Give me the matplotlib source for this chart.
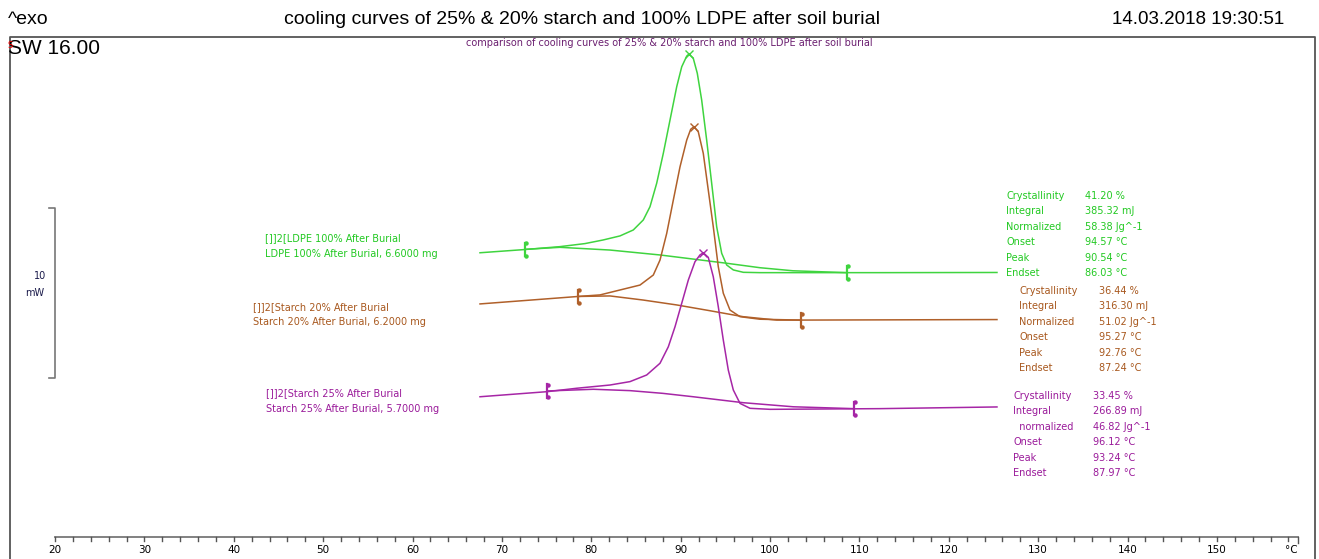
import matplotlib
matplotlib.use("Agg")
import matplotlib.pyplot as plt

W, H = 1319, 559

# colours
green = "#3fd43f"
brown = "#b0602a"
purple = "#a626a6"
green_t = "#22c922"
brown_t = "#a8581e"
purple_t = "#9a1a9a"

# LDPE 100% after burial (temperature degC, heat flow mW)
ldpe_t = [67.55, 72.58, 76.50, 79.30, 81.31, 83.21, 84.70, 85.82, 86.57, 87.32, 88.06, 88.81,
          89.56, 90.12, 90.68, 90.93, 91.41, 91.86, 92.35, 92.91, 93.47, 94.03, 94.59, 95.15,
          95.89, 97.01, 98.88, 112.30, 125.39]
ldpe_q = [16.72, 16.91, 17.08, 17.26, 17.47, 17.71, 18.06, 18.65, 19.43, 20.81, 22.57, 24.53,
          26.49, 27.66, 28.29, 28.41, 28.16, 27.28, 25.71, 23.35, 20.81, 18.25, 16.69, 16.00,
          15.71, 15.57, 15.55, 15.55, 15.56]
ldpe_bt = [72.58, 76.50, 82.09, 87.69, 91.38, 95.18, 98.88, 102.57, 108.61]
ldpe_bq = [16.92, 17.04, 16.88, 16.59, 16.35, 16.10, 15.84, 15.66, 15.55]

# Starch 20% after burial
s20_t = [67.55, 78.55, 80.98, 83.21, 85.45, 86.94, 87.69, 88.44, 89.18, 89.93, 90.68, 91.12,
         91.49, 91.97, 92.53, 93.09, 93.65, 94.21, 94.77, 95.52, 96.64, 98.88, 103.35, 125.39]
s20_q = [13.71, 14.15, 14.24, 14.53, 14.82, 15.41, 16.29, 17.86, 19.82, 21.78, 23.35, 23.98,
         24.14, 23.84, 22.57, 20.41, 18.25, 15.90, 14.34, 13.35, 12.96, 12.81, 12.76, 12.79]
s20_bt = [78.55, 82.09, 85.79, 89.56, 93.28, 96.98, 100.75, 103.43]
s20_bq = [14.15, 14.18, 13.94, 13.65, 13.31, 12.96, 12.76, 12.76]

# Starch 25% after burial
s25_t = [67.55, 75.08, 78.37, 82.09, 84.33, 86.20, 87.69, 88.62, 89.37, 90.12, 90.86, 91.60,
         92.16, 92.53, 93.09, 93.65, 94.21, 94.77, 95.33, 95.89, 96.64, 97.76, 100.00, 112.30,
         125.39]
s25_q = [8.25, 8.55, 8.75, 8.94, 9.14, 9.53, 10.22, 11.19, 12.37, 13.75, 15.12, 16.19,
         16.59, 16.72, 16.45, 15.31, 13.55, 11.59, 9.82, 8.65, 7.86, 7.57, 7.51, 7.55, 7.65]
s25_bt = [75.08, 80.23, 84.33, 88.00, 91.41, 97.01, 102.60, 109.39]
s25_bq = [8.59, 8.69, 8.61, 8.45, 8.25, 7.90, 7.66, 7.55]

# integration limits and peaks
limits = [(72.58, 16.92, 108.61, 15.55), (78.55, 14.15, 103.43, 12.76), (75.08, 8.59, 109.39, 7.55)]
peaks = [(90.93, 28.41), (91.49, 24.14), (92.53, 16.72)]

labels_1 = ["[]]2[LDPE 100% After Burial", "[]]2[Starch 20% After Burial", "[]]2[Starch 25% After Burial"]
labels_2 = ["LDPE 100% After Burial, 6.6000 mg", "Starch 20% After Burial, 6.2000 mg",
            "Starch 25% After Burial, 5.7000 mg"]

res_names = [["Crystallinity", "Integral", "Normalized", "Onset", "Peak", "Endset"],
             ["Crystallinity", "Integral", "Normalized", "Onset", "Peak", "Endset"],
             ["Crystallinity", "Integral", "  normalized", "Onset", "Peak", "Endset"]]
res_vals = [["41.20 %", "385.32 mJ", "58.38 Jg^-1", "94.57 °C", "90.54 °C", "86.03 °C"],
            ["36.44 %", "316.30 mJ", "51.02 Jg^-1", "95.27 °C", "92.76 °C", "87.24 °C"],
            ["33.45 %", "266.89 mJ", "46.82 Jg^-1", "96.12 °C", "93.24 °C", "87.97 °C"]]

x_ticks = list(range(20, 160, 10))

fig = plt.figure(figsize=(W / 100, H / 100), dpi=100)
ax = fig.add_axes([0, 0, 1, 1])
ax.set_xlim(13.846, 161.42)
ax.set_ylim(-1.294, 31.588)
ax.axis("off")


def px(x, y):
    return x / W, 1 - y / H


# frame
fig.add_artist(plt.Line2D([10 / W, 10 / W, 1315 / W, 1315 / W], [0, 1 - 37 / H, 1 - 37 / H, 0],
                          transform=fig.transFigure, color="#555555", lw=1.3))

# header
fig.text(*px(8, 20), "^exo", fontsize=14, family="Liberation Sans", va="center")
fig.text(*px(582, 20), "cooling curves of 25% & 20% starch and 100% LDPE after soil burial",
         fontsize=14, family="Liberation Sans", va="center", ha="center")
fig.text(*px(1284, 20), "14.03.2018 19:30:51", fontsize=13.5, family="Liberation Sans",
         va="center", ha="right")
fig.text(*px(8, 48), "SW 16.00", fontsize=15, family="Liberation Sans", va="center")
fig.text(*px(8, 46), "S", fontsize=6, color="red", va="center")
fig.text(*px(669, 43), "comparison of cooling curves of 25% & 20% starch and 100% LDPE after soil burial",
         fontsize=7, color="#6b1f70", ha="center", va="center")

# curves
curves = [(ldpe_t, ldpe_q, ldpe_bt, ldpe_bq, green),
          (s20_t, s20_q, s20_bt, s20_bq, brown),
          (s25_t, s25_q, s25_bt, s25_bq, purple)]
for i, (t, q, bt, bq, c) in enumerate(curves):
    ax.plot(t, q, color=c, lw=1.1, solid_joinstyle="round")
    ax.plot(bt, bq, color=c, lw=1.1, solid_joinstyle="round")
    t0, q0, t1, q1 = limits[i]
    for tt, qq in [(t0, q0), (t1, q1)]:
        ax.plot([tt, tt], [qq - 0.4, qq + 0.4], color=c, lw=1.6)
        ax.plot([tt + 0.12, tt + 0.12], [qq - 0.38, qq + 0.38], "o", color=c, ms=2.2)
    ax.plot(*peaks[i], "x", color=c, ms=6, mew=1)

# sample labels
fs = 7
lab_pos = [(265, 238, 254), (253, 307, 322), (266, 393, 409)]
txt_cols = [green_t, brown_t, purple_t]
for i in range(3):
    x0, y1, y2 = lab_pos[i]
    fig.text(*px(x0, y1), labels_1[i], fontsize=fs, color=txt_cols[i], va="center")
    fig.text(*px(x0, y2), labels_2[i], fontsize=fs, color=txt_cols[i], va="center")

# result tables
tab_pos = [(1006, 1085, 196), (1019, 1099, 291), (1013, 1093, 396)]
for i in range(3):
    xn, xv, y0 = tab_pos[i]
    for k in range(6):
        yy = y0 + k * 15.4
        fig.text(*px(xn, yy), res_names[i][k], fontsize=fs, color=txt_cols[i], va="center")
        fig.text(*px(xv, yy), res_vals[i][k], fontsize=fs, color=txt_cols[i], va="center")

# scale bar 10 mW
ax.plot([19.33, 20, 20, 19.33], [19.35, 19.35, 9.35, 9.35], color="#777777", lw=1.2)
fig.text(*px(46, 276), "10", fontsize=fs, color="#1a1a4a", ha="right", va="center")
fig.text(*px(44, 293), "mW", fontsize=fs, color="#1a1a4a", ha="right", va="center")

# temperature axis
ax.plot([20, 159.07], [0, 0], color="#777777", lw=1.3)
for tk in range(20, 160, 2):
    ax.plot([tk, tk], [0, -0.25], color="#555555", lw=1)
ax.plot([159.07, 159.07], [0, -0.35], color="#555555", lw=1)
for tk in x_ticks:
    ax.text(tk, -0.77, str(tk), fontsize=7.5, ha="center", va="center")
ax.text(159.0, -0.77, "°C", fontsize=7.5, ha="right", va="center")

fig.savefig("out.png", dpi=100)
